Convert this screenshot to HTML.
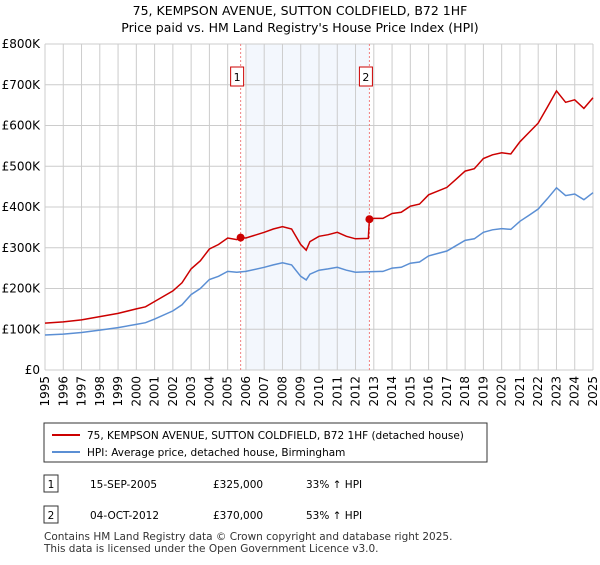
<!DOCTYPE html>
<html><head><meta charset="utf-8"><style>
body{margin:0;background:#fff;font-family:"Liberation Sans",sans-serif;}
svg text{font-family:"DejaVu Sans","Liberation Sans",sans-serif;}
</style></head><body>
<svg width="600" height="560" xmlns="http://www.w3.org/2000/svg">
<text x="300" y="15" text-anchor="middle" font-size="12.5">75, KEMPSON AVENUE, SUTTON COLDFIELD, B72 1HF</text>
<text x="300" y="32" text-anchor="middle" font-size="12.5">Price paid vs. HM Land Registry's House Price Index (HPI)</text>
<g id="plot"></g>
<g>
<rect x="44" y="423" width="443" height="39" fill="#fff" stroke="#333"/>
<line x1="52" y1="435" x2="80" y2="435" stroke="#cc0000" stroke-width="2"/>
<text x="87" y="439" font-size="10.5">75, KEMPSON AVENUE, SUTTON COLDFIELD, B72 1HF (detached house)</text>
<line x1="52" y1="452" x2="80" y2="452" stroke="#5b8fd4" stroke-width="2"/>
<text x="87" y="456" font-size="10.5">HPI: Average price, detached house, Birmingham</text>
</g>
<g font-size="10.5">
<rect x="44" y="475" width="14" height="17" fill="#fff" stroke="#333"/><text x="51" y="488" text-anchor="middle">1</text>
<text x="90" y="488">15-SEP-2005</text><text x="213" y="488">£325,000</text><text x="306" y="488">33% ↑ HPI</text>
<rect x="44" y="506" width="14" height="17" fill="#fff" stroke="#333"/><text x="51" y="519" text-anchor="middle">2</text>
<text x="90" y="519">04-OCT-2012</text><text x="213" y="519">£370,000</text><text x="306" y="519">53% ↑ HPI</text>
</g>
<text x="44" y="540" font-size="10.5" fill="#333">Contains HM Land Registry data © Crown copyright and database right 2025.</text>
<text x="44" y="552" font-size="10.5" fill="#333">This data is licensed under the Open Government Licence v3.0.</text>
</svg>
<script>
const yearTicks=[1995,1996,1997,1998,1999,2000,2001,2002,2003,2004,2005,2006,2007,2008,2009,2010,2011,2012,2013,2014,2015,2016,2017,2018,2019,2020,2021,2022,2023,2024,2025];
const priceTicks=[0,100,200,300,400,500,600,700,800];
const priceLabels=["£0","£100K","£200K","£300K","£400K","£500K","£600K","£700K","£800K"];
const hpiYears=[1995,1996,1997,1998,1999,2000,2000.5,2001,2002,2002.5,2003,2003.5,2004,2004.5,2005,2005.5,2006,2007,2007.5,2008,2008.5,2009,2009.3,2009.5,2010,2010.5,2011,2011.5,2012,2012.7,2013.5,2014,2014.5,2015,2015.5,2016,2017,2017.5,2018,2018.5,2019,2019.5,2020,2020.5,2021,2021.5,2022,2022.5,2023,2023.5,2024,2024.5,2025];
const hpiValues=[86,88,92,98,104,112,116,125,145,160,185,200,222,230,242,240,242,252,258,263,258,230,221,235,245,248,252,245,240,241,242,250,252,262,265,280,292,305,318,322,338,344,347,345,365,380,395,420,447,428,432,418,435];
const redYears=[1995,1996,1997,1998,1999,2000,2000.5,2001,2002,2002.5,2003,2003.5,2004,2004.5,2005,2005.5,2005.71,2006,2007,2007.5,2008,2008.5,2009,2009.3,2009.5,2010,2010.5,2011,2011.5,2012,2012.7,2012.76,2013,2013.5,2014,2014.5,2015,2015.5,2016,2017,2017.5,2018,2018.5,2019,2019.5,2020,2020.5,2021,2021.5,2022,2022.5,2023,2023.5,2024,2024.5,2025];
const redValues=[115,118,123,131,139,150,155,168,194,214,248,268,297,308,324,320,325,324,338,346,352,346,308,294,315,328,332,338,328,322,323,370,372,372,384,387,402,407,430,448,468,488,494,519,528,533,530,560,583,606,645,685,657,663,642,668];
const saleYears=[2005.71,2012.76];
const saleValues=[325,370];
const saleLabels=["1","2"];
const NS="http://www.w3.org/2000/svg";
const X0=45,X1=593,Y0=370,Y1=44;
function xs(y){return X0+(y-1995)/(2025-1995)*(X1-X0);}
function ys(v){return Y0-v/800*(Y0-Y1);}
const g=document.getElementById('plot');
function mk(t,a){const e=document.createElementNS(NS,t);for(const k in a)e.setAttribute(k,a[k]);g.appendChild(e);return e;}
let sh=mk('rect',{x:xs(2006),y:Y1,width:xs(saleYears[1])-xs(2006),height:Y0-Y1,fill:'#eef3fc',opacity:0.7});


priceTicks.forEach((v,i)=>{
 let l=mk('line',{x1:X0,x2:X1,y1:ys(v),y2:ys(v),stroke:'#ccc'});
 
 
 let t=mk('text',{x:X0-5,y:ys(v)+4,'text-anchor':'end','font-size':'12'});
 
 
 t.textContent=priceLabels[i];
});
yearTicks.forEach(yr=>{
 let l=mk('line',{x1:xs(yr),x2:xs(yr),y1:Y1,y2:Y0,stroke:'#ccc'});
 
 
 let t=mk('text',{x:0,y:0,'text-anchor':'end','font-size':'12',transform:`translate(${xs(yr)+4},${Y0+6}) rotate(-90)`});
 
 
 t.textContent=yr;
});
saleYears.forEach((yr,i)=>{
 let l=mk('line',{x1:xs(yr),x2:xs(yr),y1:Y1,y2:Y0,stroke:'#f08080','stroke-dasharray':'2,2'});
 
 
 let r=mk('rect',{x:xs(yr)-10,y:67,width:13,height:19,fill:'#fff',stroke:'#cc0000'});
 
 
 let t=mk('text',{x:xs(yr)-3.5,y:81,'text-anchor':'middle','font-size':'11'});
 
 
 t.textContent=saleLabels[i];
});
function path(xa,va,col,name){
 const d=xa.map((x,i)=>(i?'L':'M')+xs(x).toFixed(1)+','+ys(va[i]).toFixed(1)).join('');
 let p=mk('path',{d:d,fill:'none',stroke:col,'stroke-width':1.5});
 
 
}
path(hpiYears,hpiValues,'#5b8fd4','hpi-line');
path(redYears,redValues,'#cc0000','price-paid-line');
saleYears.forEach((yr,i)=>{
 let c=mk('circle',{cx:xs(yr),cy:ys(saleValues[i]),r:4,fill:'#cc0000'});
 
 
});
</script>
</body></html>
